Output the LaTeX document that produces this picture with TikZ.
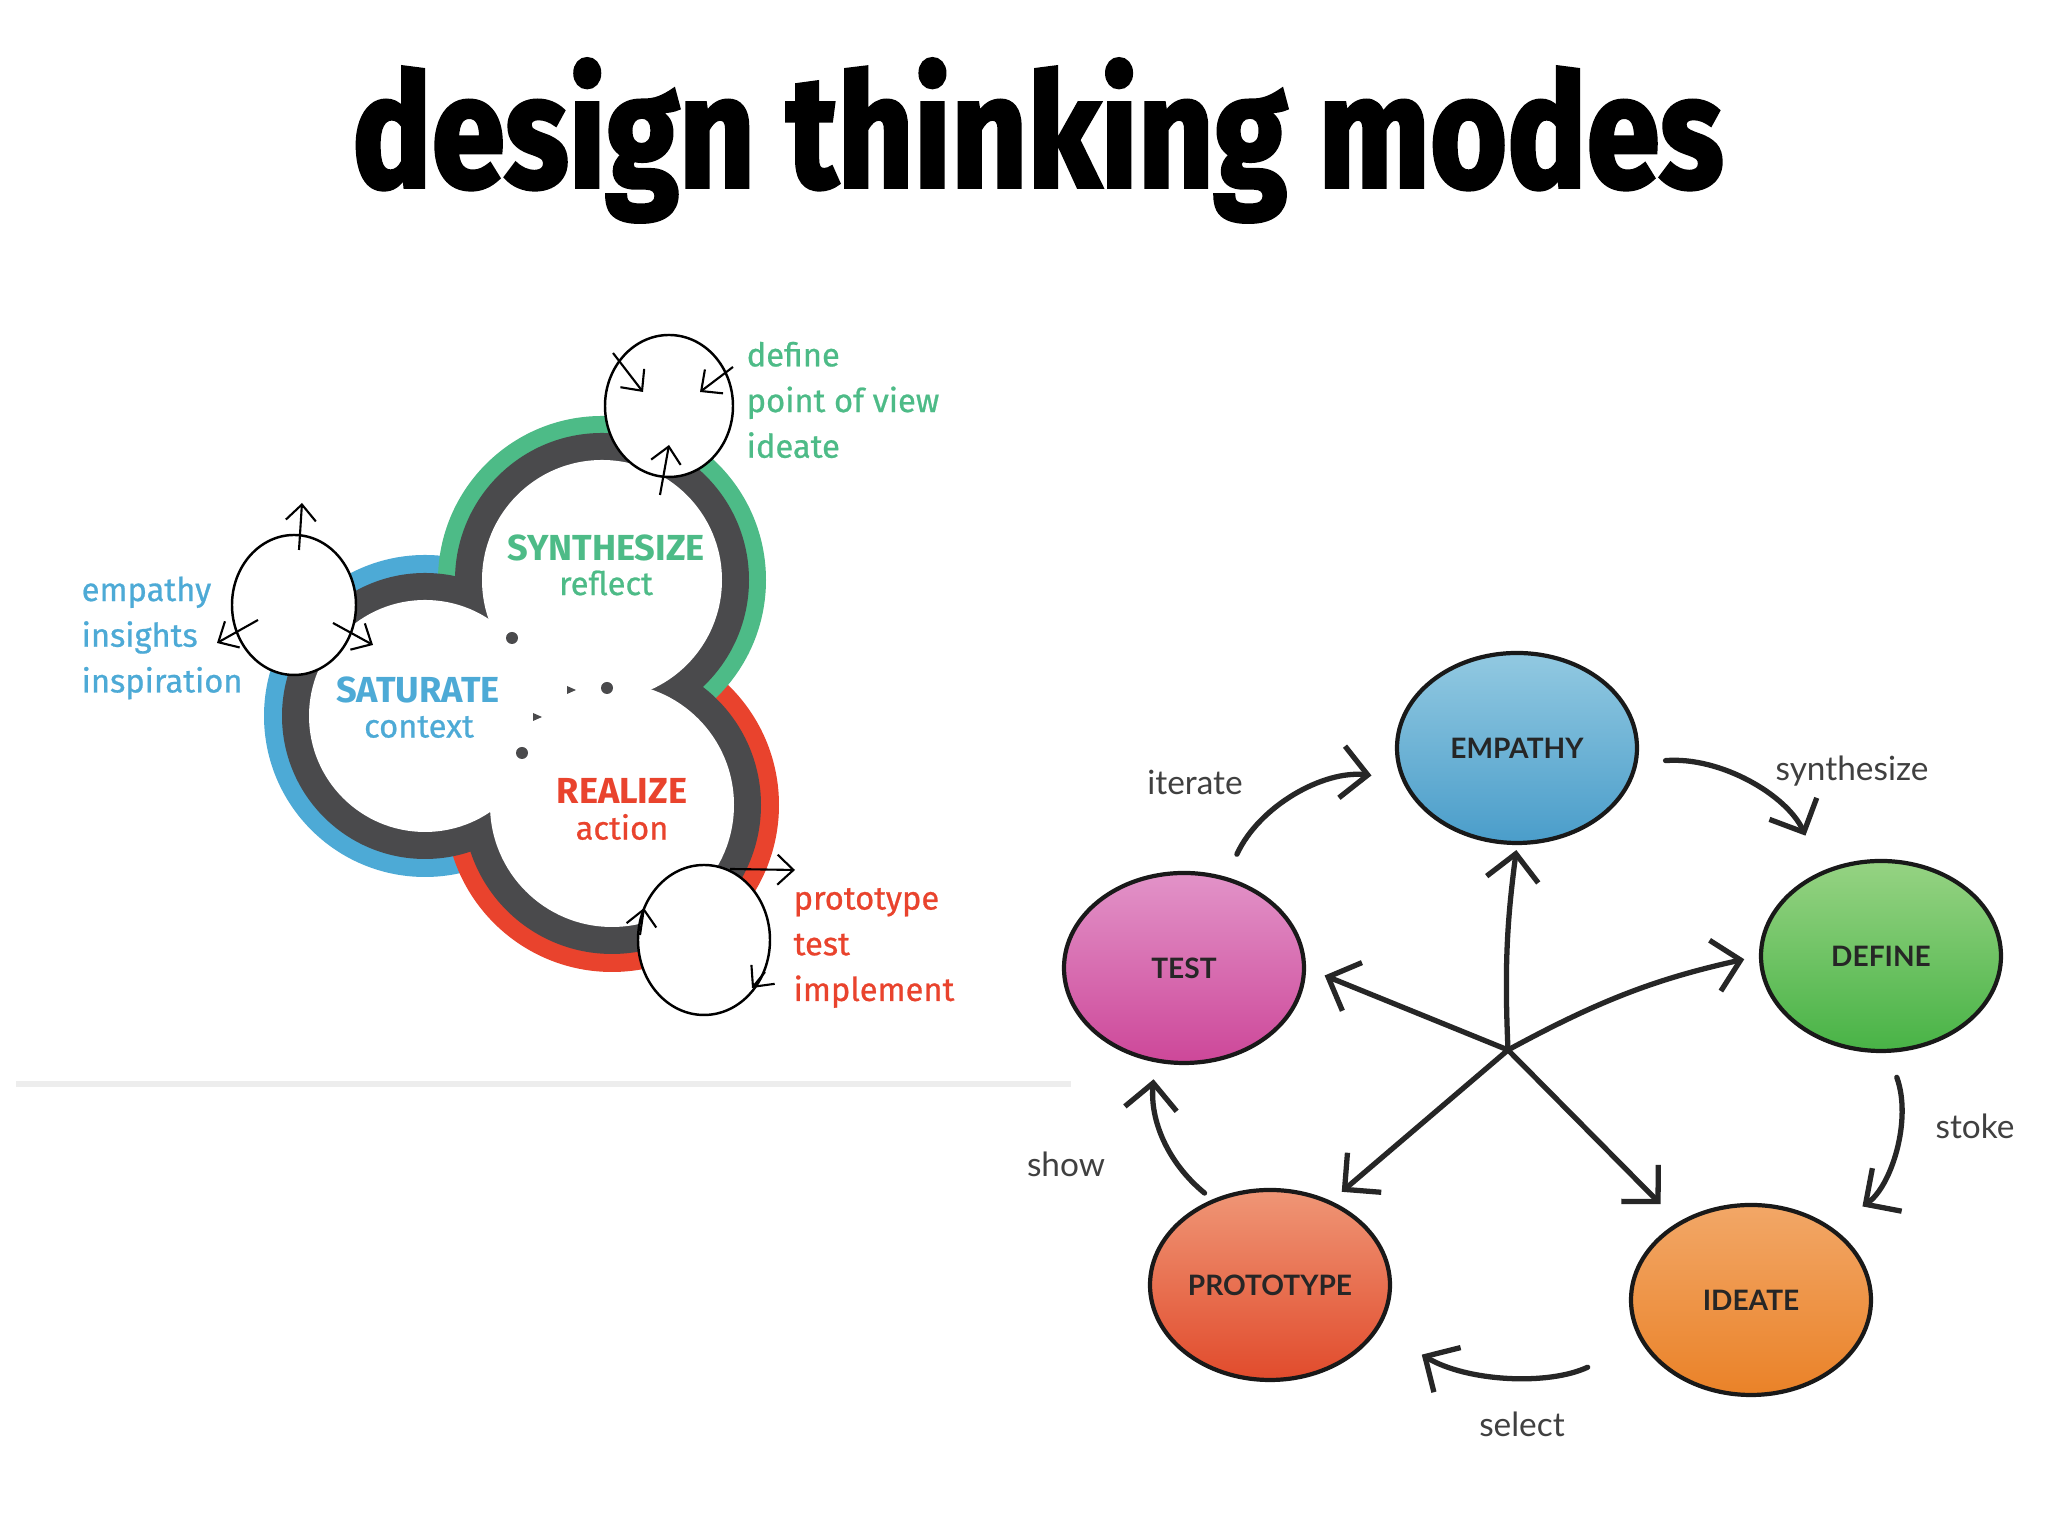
\documentclass[tikz,border=0pt]{standalone}
\usepackage{fontspec}
\setmainfont{Fira Sans}
\newfontfamily\listfont{Fira Sans}[FakeBold=0.7]
\newfontfamily\labelfont{Lato}
\newfontfamily\titlefont{Fira Sans}[BoldFeatures={FakeBold=2.5}]
\usetikzlibrary{shapes.geometric,arrows.meta,positioning,calc}

\definecolor{satBlue}{HTML}{4DAAD6}
\definecolor{synGreen}{HTML}{4DBB87}
\definecolor{reaRed}{HTML}{E9432D}
\definecolor{bandGrey}{HTML}{4A4A4C}
\definecolor{empTop}{HTML}{92C9E1}
\definecolor{empBot}{HTML}{4A9DCA}
\definecolor{defTop}{HTML}{96D383}
\definecolor{defBot}{HTML}{48B346}
\definecolor{ideTop}{HTML}{F2A767}
\definecolor{ideBot}{HTML}{EA8228}
\definecolor{proTop}{HTML}{EF9676}
\definecolor{proBot}{HTML}{E14B2C}
\definecolor{tesTop}{HTML}{E293C8}
\definecolor{tesBot}{HTML}{CD4799}

\tikzset{
  lobeName/.style={font=\bfseries\fontsize{10.3}{12}\selectfont},
  lobeSub/.style={font=\listfont\fontsize{9.3}{11}\selectfont},
  modeList/.style={anchor=west, align=left, inner sep=0pt, font=\listfont\fontsize{9.3}{13}\selectfont},
  loopRing/.style={ellipse, draw=black, line width=0.7pt, fill=white, inner sep=0pt},
  loopArrow/.style={-{Straight Barb[length=1.6mm,width=3mm]}, line width=0.6pt},
  modeNode/.style={ellipse, draw=black!90, line width=1.2pt, inner sep=0pt,
    minimum width=2.4cm, minimum height=1.9cm, shading angle=30,
    font=\labelfont\bfseries\fontsize{8}{9}\selectfont, text=black!85},
  spoke/.style={-{Straight Barb[length=2.6mm,width=5.2mm]}, line width=1.5pt, black!85, line cap=round},
  cycleLabel/.style={font=\labelfont\fontsize{9.5}{11}\selectfont, text=black!75}
}

\begin{document}
\begin{tikzpicture}
\fill[white] (0,0) rectangle (20.48,15.36);
\useasboundingbox (0,0) rectangle (20.48,15.36);

% title
\node[anchor=base, font=\titlefont\bfseries] (title) at (10.38,13.49)
  {\resizebox{13.71cm}{1.28cm}{design thinking modes}};

% faint rule under the left diagram
\draw[line width=0.06cm, black!7] (0.16,4.52) -- (10.71,4.52);

% three lobes: coloured rims, grey band, white inside
\fill[satBlue] (4.25,8.20) circle (1.61);
\fill[reaRed] (6.12,7.31) circle (1.67);
\fill[synGreen] (6.02,9.56) circle (1.64);
\fill[bandGrey] (4.25,8.20) circle (1.43);
\fill[bandGrey] (6.02,9.56) circle (1.47);
\fill[bandGrey] (6.12,7.31) circle (1.49);
\fill[white] (4.25,8.20) circle (1.16);
\fill[white] (6.02,9.56) circle (1.20);
\fill[white] (6.12,7.31) circle (1.22);
\fill[white] (4.25,8.20) -- (6.02,9.56) -- (6.12,7.31) -- cycle;

% dots in the middle
\fill[bandGrey] (5.12,8.98) circle (0.06);
\fill[bandGrey] (6.07,8.48) circle (0.06);
\fill[bandGrey] (5.22,7.83) circle (0.06);
\fill[bandGrey] (5.67,8.50) -- (5.76,8.46) -- (5.67,8.42) -- cycle;
\fill[bandGrey] (5.33,8.23) -- (5.42,8.19) -- (5.33,8.15) -- cycle;

% lobe texts
\node[lobeName, text=satBlue] (satName) at (4.18,8.46) {SATURATE};
\node[lobeSub, text=satBlue] (satSub) at (4.19,8.09) {context};
\node[lobeName, text=synGreen] (synName) at (6.06,9.88) {SYNTHESIZE};
\node[lobeSub, text=synGreen] (synSub) at (6.06,9.53) {reflect};
\node[lobeName, text=reaRed] (reaName) at (6.22,7.45) {REALIZE};
\node[lobeSub, text=reaRed] (reaSub) at (6.22,7.09) {action};

% little loops
\node[loopRing, minimum width=1.24cm, minimum height=1.40cm] (satLoop) at (2.94,9.31) {};
\node[loopRing, minimum width=1.28cm, minimum height=1.42cm] (synLoop) at (6.69,11.30) {};
\node[loopRing, minimum width=1.32cm, minimum height=1.50cm] (reaLoop) at (7.04,5.96) {};

\draw[loopArrow] ([shift={(0.05,0.55)}]satLoop.center) -- ([shift={(0.08,1.02)}]satLoop.center);
\draw[loopArrow] ([shift={(-0.36,-0.15)}]satLoop.center) -- ([shift={(-0.77,-0.38)}]satLoop.center);
\draw[loopArrow] ([shift={(0.39,-0.18)}]satLoop.center) -- ([shift={(0.79,-0.40)}]satLoop.center);
\draw[loopArrow] ([shift={(-0.56,0.53)}]synLoop.center) -- ([shift={(-0.26,0.14)}]synLoop.center);
\draw[loopArrow] ([shift={(0.64,0.39)}]synLoop.center) -- ([shift={(0.31,0.14)}]synLoop.center);
\draw[loopArrow] ([shift={(-0.09,-0.89)}]synLoop.center) -- ([shift={(0.00,-0.39)}]synLoop.center);
\draw[loopArrow] ([shift={(0.26,0.71)}]reaLoop.center) -- ([shift={(0.91,0.70)}]reaLoop.center);
\draw[loopArrow] ([shift={(-0.64,0.05)}]reaLoop.center) -- ([shift={(-0.60,0.32)}]reaLoop.center);
\draw[loopArrow] ([shift={(0.61,-0.32)}]reaLoop.center) -- ([shift={(0.48,-0.48)}]reaLoop.center);

\node[modeList, text=satBlue] (satList) at (0.81,8.98) {empathy\\insights\\inspiration};
\node[modeList, text=synGreen] (synList) at (7.46,11.36) {define\\point of view\\ideate};
\node[modeList, text=reaRed] (reaList) at (7.93,5.88) {prototype\\test\\implement};

% five modes
\node[modeNode, top color=empTop, bottom color=empBot] (empathy) at (15.17,7.88) {EMPATHY};
\node[modeNode, top color=defTop, bottom color=defBot] (define) at (18.81,5.80) {DEFINE};
\node[modeNode, top color=ideTop, bottom color=ideBot] (ideate) at (17.51,2.36) {IDEATE};
\node[modeNode, top color=proTop, bottom color=proBot] (prototype) at (12.70,2.51) {PROTOTYPE};
\node[modeNode, top color=tesTop, bottom color=tesBot] (test) at (11.84,5.68) {TEST};

\coordinate (hub) at (15.08,4.86);
\draw[spoke, shorten >=0.05cm] (hub) to[bend left=5] (empathy.south);
\draw[spoke, shorten >=0.15cm] (hub) to[bend left=8] (define.west);
\draw[spoke, shorten >=0.25cm] (hub) -- (ideate.133);
\draw[spoke, shorten >=0.14cm] (hub) -- (prototype.54);
\draw[spoke, shorten >=0.2cm] (hub) -- (test.east);

% cycle arrows
\draw[spoke, shorten <=0.25cm, shorten >=0.3cm] (test.65) to[bend left=36] (empathy.195);
\draw[spoke, shorten <=0.28cm, shorten >=0.39cm] (empathy.-7) to[bend left=35] (define.125);
\draw[spoke, shorten <=0.26cm, shorten >=0.37cm] (define.-86) to[bend left=38] (ideate.42);
\draw[spoke, shorten <=0.59cm, shorten >=0.5cm] (ideate.201) to[bend left=28] (prototype.-22);
\draw[spoke, shorten <=0.1cm, shorten >=0.17cm] (prototype.124) to[bend left=28] (test.253);

\node[cycleLabel] (iterateLbl) at (11.95,7.54) {iterate};
\node[cycleLabel] (synthLbl) at (18.52,7.65) {synthesize};
\node[cycleLabel] (stokeLbl) at (19.75,4.10) {stoke};
\node[cycleLabel] (selectLbl) at (15.22,1.12) {select};
\node[cycleLabel] (showLbl) at (10.66,3.72) {show};
\end{tikzpicture}
\end{document}
